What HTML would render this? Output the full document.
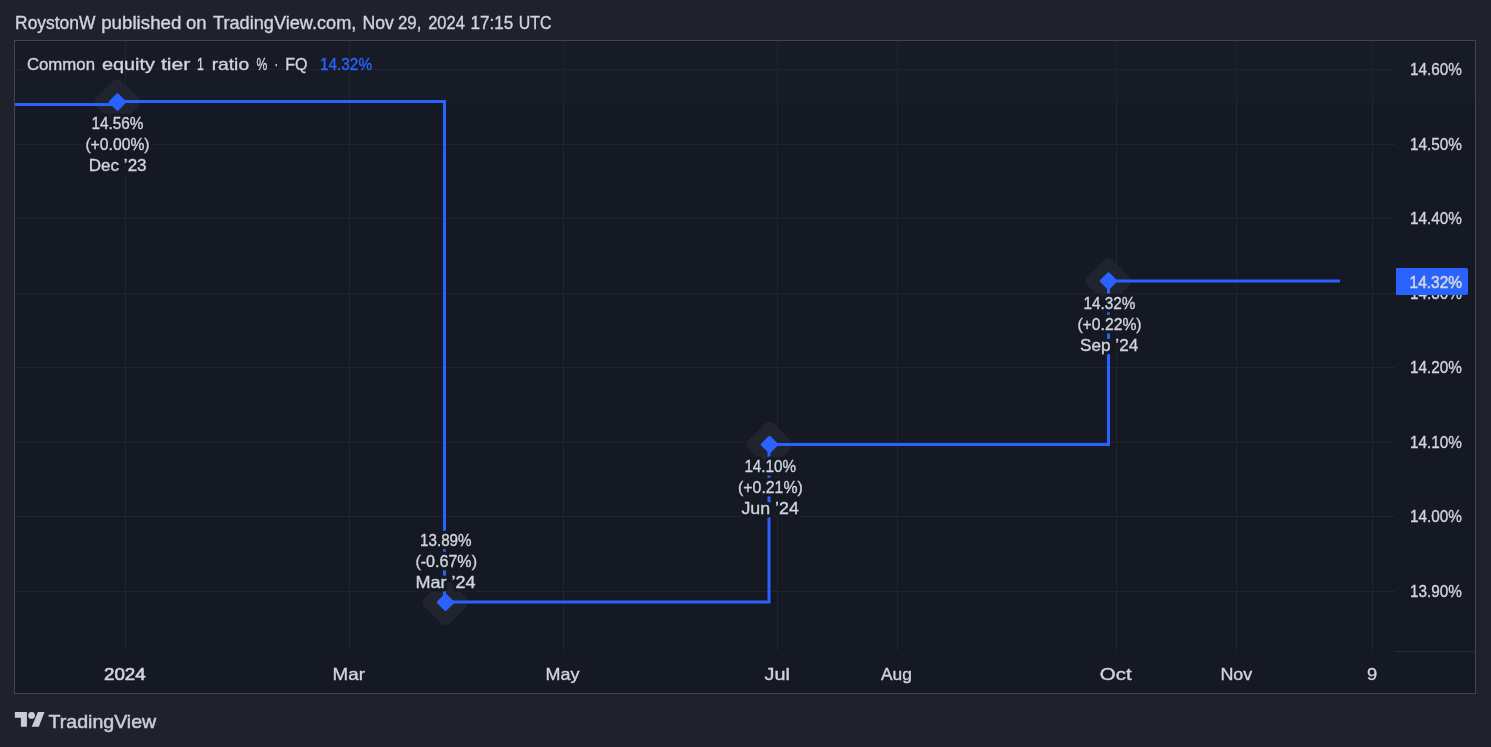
<!DOCTYPE html>
<html><head><meta charset="utf-8">
<style>
html,body{margin:0;padding:0;background:#1f222d;width:1491px;height:747px;overflow:hidden}
svg{display:block;will-change:transform}
text{font-family:"Liberation Sans",sans-serif}
</style></head>
<body>
<svg width="1491" height="747" viewBox="0 0 1491 747">
<rect x="0" y="0" width="1491" height="747" fill="#1f222d"/>

<text x="15.10" y="28.6" font-size="17.6" fill="#d1d4dc" stroke="#d1d4dc" stroke-width="0.35" textLength="80.20" lengthAdjust="spacingAndGlyphs">RoystonW</text>
<text x="101.20" y="28.6" font-size="17.6" fill="#d1d4dc" stroke="#d1d4dc" stroke-width="0.35" textLength="80.20" lengthAdjust="spacingAndGlyphs">published</text>
<text x="185.90" y="28.6" font-size="17.6" fill="#d1d4dc" stroke="#d1d4dc" stroke-width="0.35" textLength="20.60" lengthAdjust="spacingAndGlyphs">on</text>
<text x="213.00" y="28.6" font-size="17.6" fill="#d1d4dc" stroke="#d1d4dc" stroke-width="0.35" textLength="143.30" lengthAdjust="spacingAndGlyphs">TradingView.com,</text>
<text x="362.40" y="28.6" font-size="17.6" fill="#d1d4dc" stroke="#d1d4dc" stroke-width="0.35" textLength="31.40" lengthAdjust="spacingAndGlyphs">Nov</text>
<text x="398.00" y="28.6" font-size="17.6" fill="#d1d4dc" stroke="#d1d4dc" stroke-width="0.35" textLength="23.30" lengthAdjust="spacingAndGlyphs">29,</text>
<text x="428.20" y="28.6" font-size="17.6" fill="#d1d4dc" stroke="#d1d4dc" stroke-width="0.35" textLength="36.70" lengthAdjust="spacingAndGlyphs">2024</text>
<text x="470.40" y="28.6" font-size="17.6" fill="#d1d4dc" stroke="#d1d4dc" stroke-width="0.35" textLength="42.80" lengthAdjust="spacingAndGlyphs">17:15</text>
<text x="518.70" y="28.6" font-size="17.6" fill="#d1d4dc" stroke="#d1d4dc" stroke-width="0.35" textLength="32.70" lengthAdjust="spacingAndGlyphs">UTC</text>
<rect x="14.5" y="40.5" width="1461" height="653" fill="#151924" stroke="#434651" stroke-width="1"/>
<rect x="15" y="41" width="1460" height="61" fill="#171b26"/>
<g stroke="#20242f" stroke-width="1">
<line x1="15" y1="69.5" x2="1395" y2="69.5"/>
<line x1="15" y1="144.5" x2="1395" y2="144.5"/>
<line x1="15" y1="218.5" x2="1395" y2="218.5"/>
<line x1="15" y1="293.5" x2="1395" y2="293.5"/>
<line x1="15" y1="367.5" x2="1395" y2="367.5"/>
<line x1="15" y1="442.5" x2="1395" y2="442.5"/>
<line x1="15" y1="516.5" x2="1395" y2="516.5"/>
<line x1="15" y1="591.5" x2="1395" y2="591.5"/>
<line x1="125.5" y1="41" x2="125.5" y2="651"/>
<line x1="349.5" y1="41" x2="349.5" y2="651"/>
<line x1="563.5" y1="41" x2="563.5" y2="651"/>
<line x1="777.5" y1="41" x2="777.5" y2="651"/>
<line x1="897.5" y1="41" x2="897.5" y2="651"/>
<line x1="1116.5" y1="41" x2="1116.5" y2="651"/>
<line x1="1236.5" y1="41" x2="1236.5" y2="651"/>
<line x1="1372.5" y1="41" x2="1372.5" y2="651"/>
</g>
<line x1="1395" y1="651.5" x2="1475" y2="651.5" stroke="#252934" stroke-width="1"/>
<g fill="#20242e">
<rect x="-18" y="-18" width="36" height="36" rx="6.5" transform="translate(117.5 102) rotate(45)"/>
<rect x="-18" y="-18" width="36" height="36" rx="6.5" transform="translate(445.5 602.3) rotate(45)"/>
<rect x="-18" y="-18" width="36" height="36" rx="6.5" transform="translate(769.5 444.6) rotate(45)"/>
<rect x="-18" y="-18" width="36" height="36" rx="6.5" transform="translate(1108.5 281) rotate(45)"/>
</g>
<path d="M15 104.5 H117.5 M117.5 101.5 H444.5 V602 H769 V444.5 H1108.5 V281 H1340" fill="none" stroke="#2962ff" stroke-width="3"/>
<g fill="#2962ff">
<rect x="-6.6" y="-6.6" width="13.2" height="13.2" rx="1.5" transform="translate(117.5 102) rotate(45)"/>
<rect x="-6.6" y="-6.6" width="13.2" height="13.2" rx="1.5" transform="translate(445.5 602.3) rotate(45)"/>
<rect x="-6.6" y="-6.6" width="13.2" height="13.2" rx="1.5" transform="translate(769.5 444.6) rotate(45)"/>
<rect x="-6.6" y="-6.6" width="13.2" height="13.2" rx="1.5" transform="translate(1108.5 281) rotate(45)"/>
</g>
<defs><g id="lbl">
<text x="91.40" y="129.0" font-size="16.5" textLength="52.10" lengthAdjust="spacingAndGlyphs">14.56%</text>
<text x="85.40" y="150.0" font-size="16.5" textLength="64.20" lengthAdjust="spacingAndGlyphs">(+0.00%)</text>
<text x="88.80" y="171.0" font-size="16.5" textLength="57.80" lengthAdjust="spacingAndGlyphs">Dec ’23</text>
<text x="420.00" y="546.0" font-size="16.5" textLength="51.60" lengthAdjust="spacingAndGlyphs">13.89%</text>
<text x="415.40" y="567.0" font-size="16.5" textLength="61.60" lengthAdjust="spacingAndGlyphs">(-0.67%)</text>
<text x="415.40" y="588.0" font-size="16.5" textLength="60.20" lengthAdjust="spacingAndGlyphs">Mar ’24</text>
<text x="744.40" y="471.5" font-size="16.5" textLength="51.70" lengthAdjust="spacingAndGlyphs">14.10%</text>
<text x="738.10" y="492.5" font-size="16.5" textLength="64.70" lengthAdjust="spacingAndGlyphs">(+0.21%)</text>
<text x="741.40" y="513.5" font-size="16.5" textLength="57.40" lengthAdjust="spacingAndGlyphs">Jun ’24</text>
<text x="1083.40" y="309.0" font-size="16.5" textLength="52.10" lengthAdjust="spacingAndGlyphs">14.32%</text>
<text x="1077.40" y="330.0" font-size="16.5" textLength="64.20" lengthAdjust="spacingAndGlyphs">(+0.22%)</text>
<text x="1080.10" y="351.0" font-size="16.5" textLength="58.10" lengthAdjust="spacingAndGlyphs">Sep ’24</text>
</g></defs>
<use href="#lbl" fill="#151924" stroke="#151924" stroke-width="7" stroke-linejoin="round"/>
<use href="#lbl" fill="#d1d4dc" stroke="#d1d4dc" stroke-width="0.35"/>
<text x="26.90" y="69.8" font-size="17" fill="#d1d4dc" stroke="#d1d4dc" stroke-width="0.35" textLength="68.10" lengthAdjust="spacingAndGlyphs">Common</text>
<text x="101.90" y="69.8" font-size="17" fill="#d1d4dc" stroke="#d1d4dc" stroke-width="0.35" textLength="53.00" lengthAdjust="spacingAndGlyphs">equity</text>
<text x="160.90" y="69.8" font-size="17" fill="#d1d4dc" stroke="#d1d4dc" stroke-width="0.35" textLength="29.40" lengthAdjust="spacingAndGlyphs">tier</text>
<text x="197.10" y="69.8" font-size="17" fill="#d1d4dc" stroke="#d1d4dc" stroke-width="0.35" textLength="6.80" lengthAdjust="spacingAndGlyphs">1</text>
<text x="211.70" y="69.8" font-size="17" fill="#d1d4dc" stroke="#d1d4dc" stroke-width="0.35" textLength="37.40" lengthAdjust="spacingAndGlyphs">ratio</text>
<text x="256.40" y="69.8" font-size="17" fill="#d1d4dc" stroke="#d1d4dc" stroke-width="0.35" textLength="10.80" lengthAdjust="spacingAndGlyphs">%</text>
<text x="274.60" y="69.8" font-size="17" fill="#d1d4dc" stroke="#d1d4dc" stroke-width="0.35" textLength="3.70" lengthAdjust="spacingAndGlyphs">·</text>
<text x="285.20" y="69.8" font-size="17" fill="#d1d4dc" stroke="#d1d4dc" stroke-width="0.35" textLength="22.30" lengthAdjust="spacingAndGlyphs">FQ</text>
<text x="320.10" y="69.8" font-size="17" fill="#2962ff" stroke="#2962ff" stroke-width="0.35" textLength="51.90" lengthAdjust="spacingAndGlyphs">14.32%</text>
<text x="1409.90" y="75.0" font-size="17.3" fill="#d1d4dc" stroke="#d1d4dc" stroke-width="0.35" textLength="51.90" lengthAdjust="spacingAndGlyphs">14.60%</text>
<text x="1409.90" y="150.0" font-size="17.3" fill="#d1d4dc" stroke="#d1d4dc" stroke-width="0.35" textLength="51.90" lengthAdjust="spacingAndGlyphs">14.50%</text>
<text x="1409.90" y="224.0" font-size="17.3" fill="#d1d4dc" stroke="#d1d4dc" stroke-width="0.35" textLength="51.90" lengthAdjust="spacingAndGlyphs">14.40%</text>
<text x="1409.90" y="299.0" font-size="17.3" fill="#d1d4dc" stroke="#d1d4dc" stroke-width="0.35" textLength="51.90" lengthAdjust="spacingAndGlyphs">14.30%</text>
<text x="1409.90" y="373.0" font-size="17.3" fill="#d1d4dc" stroke="#d1d4dc" stroke-width="0.35" textLength="51.90" lengthAdjust="spacingAndGlyphs">14.20%</text>
<text x="1409.90" y="448.0" font-size="17.3" fill="#d1d4dc" stroke="#d1d4dc" stroke-width="0.35" textLength="51.90" lengthAdjust="spacingAndGlyphs">14.10%</text>
<text x="1409.90" y="522.0" font-size="17.3" fill="#d1d4dc" stroke="#d1d4dc" stroke-width="0.35" textLength="51.90" lengthAdjust="spacingAndGlyphs">14.00%</text>
<text x="1409.90" y="597.0" font-size="17.3" fill="#d1d4dc" stroke="#d1d4dc" stroke-width="0.35" textLength="51.90" lengthAdjust="spacingAndGlyphs">13.90%</text>
<path d="M1396 268 H1466 Q1468 268 1468 270 V293 Q1468 295 1466 295 H1396 Z" fill="#2962ff"/>
<text x="1409.60" y="288" font-size="17.3" fill="#d1d4dc" stroke="#d1d4dc" stroke-width="0.6" textLength="52.40" lengthAdjust="spacingAndGlyphs">14.32%</text>
<text x="104.00" y="679.6" font-size="16.5" fill="#d1d4dc" stroke="#d1d4dc" stroke-width="0.6" textLength="41.60" lengthAdjust="spacingAndGlyphs">2024</text>
<text x="332.50" y="679.6" font-size="16.5" fill="#d1d4dc" stroke="#d1d4dc" stroke-width="0.35" textLength="32.40" lengthAdjust="spacingAndGlyphs">Mar</text>
<text x="545.60" y="679.6" font-size="16.5" fill="#d1d4dc" stroke="#d1d4dc" stroke-width="0.35" textLength="33.90" lengthAdjust="spacingAndGlyphs">May</text>
<text x="764.50" y="679.6" font-size="16.5" fill="#d1d4dc" stroke="#d1d4dc" stroke-width="0.35" textLength="25.30" lengthAdjust="spacingAndGlyphs">Jul</text>
<text x="881.00" y="679.6" font-size="16.5" fill="#d1d4dc" stroke="#d1d4dc" stroke-width="0.35" textLength="30.80" lengthAdjust="spacingAndGlyphs">Aug</text>
<text x="1099.80" y="679.6" font-size="16.5" fill="#d1d4dc" stroke="#d1d4dc" stroke-width="0.35" textLength="31.80" lengthAdjust="spacingAndGlyphs">Oct</text>
<text x="1220.40" y="679.6" font-size="16.5" fill="#d1d4dc" stroke="#d1d4dc" stroke-width="0.35" textLength="31.90" lengthAdjust="spacingAndGlyphs">Nov</text>
<text x="1366.90" y="679.6" font-size="16.5" fill="#d1d4dc" stroke="#d1d4dc" stroke-width="0.35" textLength="10.20" lengthAdjust="spacingAndGlyphs">9</text>
<g fill="#cbcdd6">
<path d="M14.9 712 H26.9 V726.8 H20.9 V717.7 H14.9 Z"/>
<circle cx="31.55" cy="715.4" r="3.4"/>
<path d="M37.9 712 H44.5 L38.8 726.8 H31.7 Z"/>
</g>
<text x="48.60" y="727.9" font-size="18.5" fill="#cbcdd6" stroke="#cbcdd6" stroke-width="0.5" textLength="107.60" lengthAdjust="spacingAndGlyphs">TradingView</text>
</svg>
</body></html>
